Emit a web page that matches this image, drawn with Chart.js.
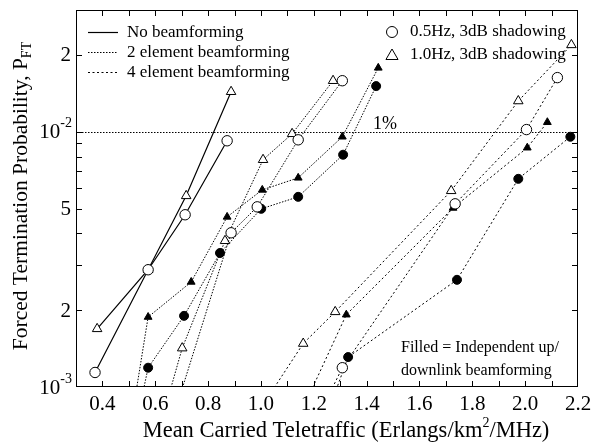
<!DOCTYPE html>
<html>
<head>
<meta charset="utf-8">
<script src="https://cdn.jsdelivr.net/npm/chart.js@4.4.0/dist/chart.umd.min.js"></script>
<style>
  html, body { margin: 0; padding: 0; background: #fff; }
  #wrap { width: 594px; height: 442px; position: relative; }
</style>
</head>
<body>
<div id="wrap"><canvas id="chart"></canvas></div>
<script>
// ------------------------------------------------------
// DATA
// ------------------------------------------------------
const xTickLabels = [0.4, 0.6, 0.8, 1.0, 1.2, 1.4, 1.6, 1.8, 2.0, 2.2];
const yTickLabels = [0.001, 0.002, 0.005, 0.01, 0.02];

// no beamforming
const nbCircleX = [0.372, 0.573, 0.713, 0.872];
const nbCircleY = [0.00114, 0.00288, 0.00473, 0.00922];
const nbTriX = [0.380, 0.573, 0.717, 0.887];
const nbTriY = [0.00169, 0.00288, 0.00561, 0.01435];

// 2 element beamforming
const el2CircleX = [0.645, 0.887, 0.986, 1.141, 1.308];
const el2CircleY = [0.00064, 0.00402, 0.00508, 0.00930, 0.01585];
const el2TriX = [0.607, 0.702, 0.864, 1.008, 1.118, 1.273];
const el2TriY = [0.00064, 0.00142, 0.00374, 0.00777, 0.00982, 0.01585];
const el2FCircleX = [0.518, 0.573, 0.709, 0.845, 1.001, 1.141, 1.311, 1.436];
const el2FCircleY = [0.00064, 0.00119, 0.00190, 0.00335, 0.00499, 0.00556, 0.00813, 0.0151];
const el2FTriX = [0.500, 0.573, 0.736, 0.872, 1.005, 1.141, 1.308, 1.444];
const el2FTriY = [0.00064, 0.00188, 0.00258, 0.00464, 0.00592, 0.00660, 0.00956, 0.0178];

// 4 element beamforming
const el4CircleX = [1.180, 1.308, 1.735, 2.005, 2.122];
const el4CircleY = [0.00064, 0.00119, 0.00522, 0.0102, 0.0163];
const el4TriX = [0.929, 1.160, 1.281, 1.720, 1.974, 2.175];
const el4TriY = [0.00064, 0.00148, 0.00197, 0.00587, 0.0132, 0.0219];
const el4FCircleX = [1.220, 1.330, 1.742, 1.974, 2.171];
const el4FCircleY = [0.00064, 0.00131, 0.00263, 0.00654, 0.00956];
const el4FTriX = [1.110, 1.323, 1.727, 2.008, 2.084];
const el4FTriY = [0.00064, 0.00192, 0.00503, 0.00866, 0.0109];

const FONT = "'Liberation Serif', 'Times New Roman', serif";

function pts(xs, ys) {
    return xs.map((x, i) => ({ x: x, y: ys[i] }));
}

// line styles
const SOLID = [];
const DOT2 = [1.5, 1.5];
const DOT4 = [2, 2.5];

function series(xs, ys, marker, filled, dash) {
    const isTri = marker === "triangle";
    return {
        data: pts(xs, ys),
        showLine: true,
        borderColor: "#000",
        borderWidth: dash.length ? 1 : 1.2,
        borderDash: dash,
        pointStyle: marker,
        pointRadius: filled ? 4.5 : (isTri ? 5.5 : 5.2),
        pointBorderWidth: 1,
        pointBorderColor: "#000",
        pointBackgroundColor: filled ? "#000" : "#fff",
        tension: 0
    };
}

const datasets = [
    series(nbCircleX, nbCircleY, "circle", false, SOLID),
    series(nbTriX, nbTriY, "triangle", false, SOLID),
    series(el2CircleX, el2CircleY, "circle", false, DOT2),
    series(el2TriX, el2TriY, "triangle", false, DOT2),
    series(el2FCircleX, el2FCircleY, "circle", true, DOT2),
    series(el2FTriX, el2FTriY, "triangle", true, DOT2),
    series(el4CircleX, el4CircleY, "circle", false, DOT4),
    series(el4TriX, el4TriY, "triangle", false, DOT4),
    series(el4FCircleX, el4FCircleY, "circle", true, DOT4),
    series(el4FTriX, el4FTriY, "triangle", true, DOT4)
];

// ------------------------------------------------------
// FRAME, TICKS, LABELS, LEGEND
// ------------------------------------------------------
const onePercentLine = {
    id: "onePercent",
    beforeDatasetsDraw(chart) {
        const { ctx, chartArea: a, scales } = chart;
        const y = Math.round(scales.y.getPixelForValue(0.01)) + 0.5;
        ctx.save();
        ctx.strokeStyle = "#000";
        ctx.lineWidth = 1;
        ctx.setLineDash([1.5, 1.5]);
        ctx.beginPath();
        ctx.moveTo(a.left, y);
        ctx.lineTo(a.right, y);
        ctx.stroke();
        ctx.setLineDash([]);
        ctx.fillStyle = "#000";
        ctx.font = "18px " + FONT;
        ctx.textAlign = "center";
        ctx.textBaseline = "alphabetic";
        ctx.fillText("1%", 385, y - 4);
        ctx.restore();
    }
};

function drawTri(ctx, x, y, r, filled) {
    ctx.beginPath();
    ctx.moveTo(x, y - r);
    ctx.lineTo(x + r * 0.866, y + r * 0.5);
    ctx.lineTo(x - r * 0.866, y + r * 0.5);
    ctx.closePath();
    ctx.fillStyle = filled ? "#000" : "#fff";
    ctx.fill();
    ctx.stroke();
}

const decorations = {
    id: "decorations",
    afterDraw(chart) {
        const { ctx, chartArea: a, scales } = chart;
        const xs = scales.x, ys = scales.y;
        ctx.save();
        ctx.strokeStyle = "#000";
        ctx.fillStyle = "#000";
        ctx.lineWidth = 1;
        ctx.setLineDash([]);

        // frame
        ctx.strokeRect(a.left + 0.5, a.top + 0.5, a.right - a.left - 1, a.bottom - a.top - 1);

        // x ticks (every 0.1, inward, top and bottom)
        ctx.beginPath();
        for (let i = 4; i < 22; i++) {
            const px = Math.round(xs.getPixelForValue(i / 10)) + 0.5;
            ctx.moveTo(px, a.bottom);
            ctx.lineTo(px, a.bottom - 6);
            ctx.moveTo(px, a.top);
            ctx.lineTo(px, a.top + 6);
        }
        // y ticks (1..9 per decade, inward, left and right)
        for (let d = -3; d <= -2; d++) {
            for (let k = 1; k <= 9; k++) {
                const v = k * Math.pow(10, d);
                if (v <= ys.min * 1.0001 || v > ys.max) continue;
                const py = Math.round(ys.getPixelForValue(v)) + 0.5;
                ctx.moveTo(a.left, py);
                ctx.lineTo(a.left + 6, py);
                ctx.moveTo(a.right, py);
                ctx.lineTo(a.right - 6, py);
            }
        }
        ctx.stroke();

        // x tick labels
        ctx.font = "21px " + FONT;
        ctx.textAlign = "center";
        ctx.textBaseline = "middle";
        xTickLabels.forEach(v => {
            ctx.fillText(v.toFixed(1), xs.getPixelForValue(v), a.bottom + 17);
        });

        // y tick labels
        yTickLabels.forEach(v => {
            const py = ys.getPixelForValue(v);
            const exp = Math.floor(Math.log10(v) + 1e-9);
            const mant = Math.round(v / Math.pow(10, exp));
            ctx.textAlign = "right";
            ctx.textBaseline = "middle";
            if (mant === 1) {
                ctx.font = "14px " + FONT;
                const sup = String(exp);
                const supW = ctx.measureText(sup).width;
                ctx.fillText(sup, a.left - 4, py - 8);
                ctx.font = "21px " + FONT;
                ctx.fillText("10", a.left - 4 - supW, py + 1);
            } else {
                ctx.font = "21px " + FONT;
                ctx.fillText(String(mant), a.left - 5, py + 1);
            }
        });

        // x axis title
        ctx.textBaseline = "alphabetic";
        ctx.textAlign = "left";
        const xt1 = "Mean Carried Teletraffic (Erlangs/km";
        const xt2 = "/MHz)";
        ctx.font = "22.5px " + FONT;
        const w1 = ctx.measureText(xt1).width;
        const w3 = ctx.measureText(xt2).width;
        ctx.font = "14px " + FONT;
        const w2 = ctx.measureText("2").width;
        let sx = 346 - (w1 + w2 + w3) / 2;
        const by = 437;
        ctx.font = "22.5px " + FONT;
        ctx.fillText(xt1, sx, by);
        ctx.font = "14px " + FONT;
        ctx.fillText("2", sx + w1, by - 10);
        ctx.font = "22.5px " + FONT;
        ctx.fillText(xt2, sx + w1 + w2, by);

        // y axis title (rotated)
        ctx.save();
        ctx.translate(27, 196);
        ctx.rotate(-Math.PI / 2);
        const yt = "Forced Termination Probability, P";
        ctx.font = "21.5px " + FONT;
        const yw1 = ctx.measureText(yt).width;
        ctx.font = "14px " + FONT;
        const yw2 = ctx.measureText("FT").width;
        const ys0 = -(yw1 + yw2) / 2;
        ctx.font = "21.5px " + FONT;
        ctx.fillText(yt, ys0, 0);
        ctx.font = "14px " + FONT;
        ctx.fillText("FT", ys0 + yw1, 4);
        ctx.restore();

        // legend: line styles
        const leg = [
            ["No beamforming", SOLID, 32],
            ["2 element beamforming", DOT2, 52],
            ["4 element beamforming", DOT4, 72]
        ];
        ctx.font = "17px " + FONT;
        ctx.textBaseline = "middle";
        ctx.textAlign = "left";
        leg.forEach(([txt, dash, y]) => {
            ctx.setLineDash(dash);
            ctx.lineWidth = dash.length ? 1 : 1.2;
            ctx.beginPath();
            ctx.moveTo(88, y + 0.5);
            ctx.lineTo(118, y + 0.5);
            ctx.stroke();
            ctx.setLineDash([]);
            ctx.fillText(txt, 127, y + 1);
        });

        // legend: markers
        ctx.lineWidth = 1;
        ctx.beginPath();
        ctx.arc(392, 32, 5.5, 0, Math.PI * 2);
        ctx.fillStyle = "#fff";
        ctx.fill();
        ctx.stroke();
        drawTri(ctx, 392, 56, 7, false);
        ctx.fillStyle = "#000";
        ctx.fillText("0.5Hz, 3dB shadowing", 410, 32);
        ctx.fillText("1.0Hz, 3dB shadowing", 410, 55);

        // note
        ctx.font = "16px " + FONT;
        ctx.fillText("Filled = Independent up/", 401, 348);
        ctx.fillText("downlink beamforming", 401, 371);

        ctx.restore();
    }
};

// ------------------------------------------------------
// CHART
// ------------------------------------------------------
const ctx = document.getElementById("chart").getContext("2d");
new Chart(ctx, {
    type: "scatter",
    data: { datasets },
    options: {
        responsive: true,
        maintainAspectRatio: false,
        animation: false,
        layout: { padding: { top: 10, right: 16, left: 0, bottom: 0 } },
        plugins: {
            legend: { display: false },
            tooltip: { enabled: false }
        },
        scales: {
            x: {
                type: "linear",
                min: 0.3,
                max: 2.2,
                grid: { display: false },
                border: { display: false },
                ticks: { display: false },
                afterFit: s => { s.height = 55; }
            },
            y: {
                type: "logarithmic",
                min: 0.001,
                max: 0.03,
                grid: { display: false },
                border: { display: false },
                ticks: { display: false },
                afterFit: s => { s.width = 76; }
            }
        }
    },
    plugins: [onePercentLine, decorations]
});
</script>
</body>
</html>
